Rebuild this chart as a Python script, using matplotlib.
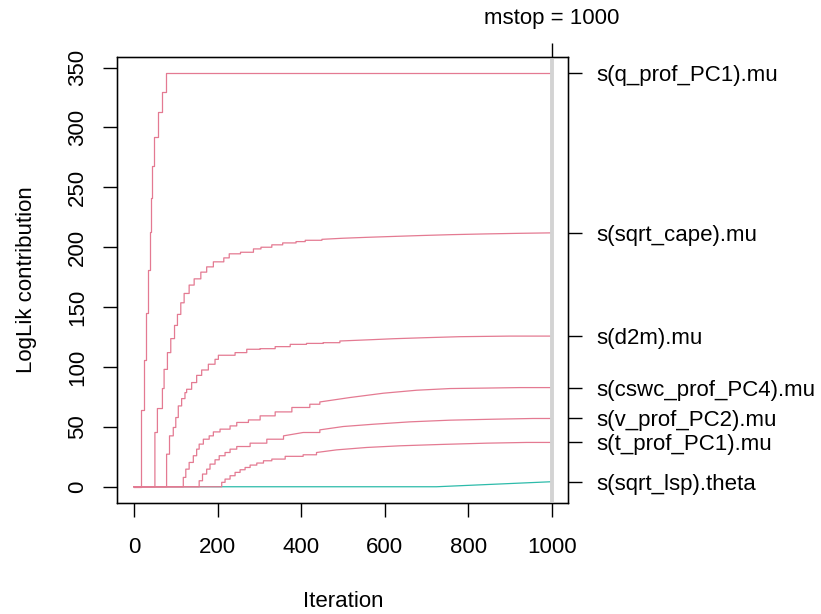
import numpy as np
import matplotlib
matplotlib.use("Agg")
import matplotlib.pyplot as plt

plt.rcParams['font.family'] = ['Liberation Sans', 'DejaVu Sans']

# cumulative loglik contribution per base-learner
q_prof_iter = [0, 17, 23, 29, 34, 38, 41, 44, 48, 58, 66, 76, 1000]
q_prof_val = [0, 64, 106, 145, 181, 213, 241, 267.5, 291.7, 312.8, 330, 345.3, 345.3]

cape_iter = [0, 50, 56, 68, 72, 80, 88, 97, 104, 112, 120, 132, 144, 160, 174,
             190, 215, 228, 255, 286, 304, 330, 356, 388, 410, 450, 500, 560,
             620, 690, 760, 840, 920, 1000]
cape_val = [0, 45.3, 65.3, 82, 98, 112, 123.7, 134.7, 143.9, 153.6, 161.4,
            168.4, 173.6, 179.2, 183.6, 187.8, 191.1, 194.5, 195.8, 198.6, 200,
            202, 203.6, 204.7, 205.8, 206.6, 207.5, 208.3, 209, 209.8, 210.5,
            211.1, 211.6, 212.0]

d2m_iter = [0, 78, 85, 94, 100, 106, 114, 122, 126, 138, 150, 162, 178, 194,
            202, 242, 270, 302, 338, 374, 413, 453, 493, 569, 621, 701, 780,
            900, 1000]
d2m_val = [0, 27.2, 42.5, 49.5, 57.8, 67.5, 73.6, 78.6, 81.4, 87, 93, 97.5,
           102.3, 106.4, 109.8, 112, 114.8, 115.3, 117, 118.9, 119.7, 120.3,
           121.7, 122.8, 123.6, 124.5, 125.3, 125.8, 125.8]

cswc_iter = [0, 118, 124, 132, 142, 150, 156, 166, 180, 190, 206, 230, 246,
             274, 302, 338, 378, 421, 445, 517, 597, 677, 757, 844, 924, 1000]
cswc_val = [0, 7.8, 14.7, 20.3, 25.9, 31.4, 35.6, 39.7, 42.5, 45.8, 48.1, 50.8,
            53.7, 55.8, 59.2, 62.5, 66.2, 68.9, 70.8, 74.5, 78.1, 80.6, 82,
            82.4, 82.8, 82.8]

v_prof_iter = [0, 156, 164, 174, 182, 194, 204, 218, 230, 246, 278, 318, 358,
               405, 445, 501, 573, 661, 757, 860, 956, 1000]
v_prof_val = [0, 5, 10.6, 14.7, 18.9, 22.5, 25.9, 28.6, 31.4, 33.6, 36.4, 39.7,
              42.5, 45.3, 47.5, 50.3, 52.2, 54.2, 55.6, 56.4, 57, 57]

t_prof_iter = [0, 210, 218, 230, 242, 254, 266, 278, 294, 310, 330, 362, 405,
               437, 485, 557, 637, 733, 844, 940, 1000]
t_prof_val = [0, 3.7, 6.4, 9.2, 12, 14.2, 16.1, 18.1, 19.8, 21.7, 23.1, 25.4,
              26.7, 28.6, 30.8, 32.8, 34.2, 35.3, 36.4, 37, 37]

lsp_iter = [0, 724, 1000]
lsp_val = [0, 0, 4.2]

mu_curves = [
    ("s(q_prof_PC1).mu", q_prof_iter, q_prof_val),
    ("s(sqrt_cape).mu", cape_iter, cape_val),
    ("s(d2m).mu", d2m_iter, d2m_val),
    ("s(cswc_prof_PC4).mu", cswc_iter, cswc_val),
    ("s(v_prof_PC2).mu", v_prof_iter, v_prof_val),
    ("s(t_prof_PC1).mu", t_prof_iter, t_prof_val),
]
theta_name = "s(sqrt_lsp).theta"
mstop = 1000

pink = "#E47A92"
teal = "#2DBBAA"
fs = 16


def stair_path(it, val):
    # closely spaced readings are real jumps -> draw as steps,
    # widely spaced ones in the flat tail are many tiny steps -> ramp
    xs, ys = [it[0]], [val[0]]
    for k in range(1, len(it)):
        if it[k] - it[k - 1] <= 45 or val[k - 1] == 0:
            xs.append(it[k])
            ys.append(val[k - 1])
        xs.append(it[k])
        ys.append(val[k])
    return xs, ys


fig = plt.figure(figsize=(8.21, 6.14), dpi=100)
ax = fig.add_axes([0.1429, 0.1803, 0.5493, 0.7274])

ax.plot(lsp_iter, lsp_val, color=teal, lw=0.9, zorder=2)
for name, it, val in mu_curves:
    xs, ys = stair_path(it, val)
    ax.plot(xs, ys, color=pink, lw=0.9, zorder=3)
ax.axvline(mstop, color="#D3D3D3", lw=2.8, zorder=4)

ymax = max(v[-1] for _, _, v in mu_curves)
ax.set_xlim(-40, 1040)
ax.set_ylim(-0.04 * ymax, 1.04 * ymax)

ax.set_xticks(np.arange(0, 1001, 200))
ax.set_yticks(np.arange(0, 351, 50))
ax.tick_params(axis="both", length=10, width=1, labelsize=fs, color="black")
ax.tick_params(axis="x", pad=14)
ax.tick_params(axis="y", pad=11)
for lab in ax.get_yticklabels():
    lab.set_rotation(90)
    lab.set_va("center")
for sp in ax.spines.values():
    sp.set_linewidth(1)

ax.set_xlabel("Iteration", fontsize=fs, labelpad=24)
ax.set_ylabel("LogLik contribution", fontsize=fs, labelpad=22)

# right axis: names at final values
ax_r = ax.twinx()
ax_r.set_ylim(ax.get_ylim())
end_vals = [v[-1] for _, _, v in mu_curves] + [lsp_val[-1]]
end_names = [n for n, _, _ in mu_curves] + [theta_name]
ax_r.set_yticks(end_vals)
ax_r.set_yticklabels(end_names)
ax_r.tick_params(axis="y", length=10, width=1, labelsize=fs, pad=10)

# top axis: mstop marker
ax_t = ax.twiny()
ax_t.set_xlim(ax.get_xlim())
ax_t.set_xticks([mstop])
ax_t.set_xticklabels(["mstop = %d" % mstop])
ax_t.tick_params(axis="x", length=10, width=1, labelsize=fs, pad=10)

fig.savefig("out.png", dpi=100)
